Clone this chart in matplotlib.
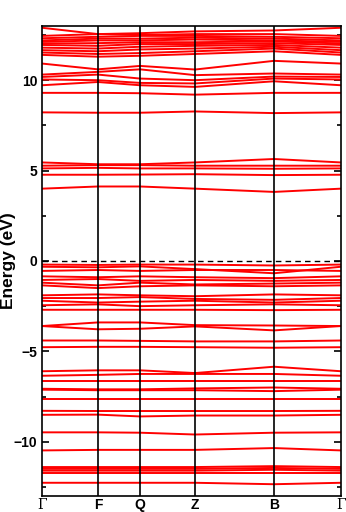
import numpy as np
import matplotlib.pyplot as plt

# k-path: high-symmetry points (fractional position along the path)
kpos = [0.0, 0.187, 0.328, 0.512, 0.776, 1.0]
klabels = ['Γ', 'F', 'Q', 'Z', 'B', 'Γ']

# band energies (eV) at Γ, F, Q, Z, B, Γ
valence = [
    [-0.20, -0.22, -0.20, -0.20, -0.25, -0.20],
    [-0.32, -0.35, -0.30, -0.45, -0.68, -0.32],
    [-0.55, -0.50, -0.55, -0.50, -0.50, -0.55],
    [-0.85, -0.90, -0.85, -0.90, -0.95, -0.85],
    [-1.05, -1.00, -1.10, -1.05, -1.10, -1.05],
    [-1.20, -1.35, -1.20, -1.30, -1.25, -1.20],
    [-1.35, -1.50, -1.40, -1.35, -1.40, -1.35],
    [-1.90, -1.85, -1.90, -1.95, -1.85, -1.90],
    [-2.05, -2.05, -2.00, -2.10, -2.15, -2.05],
    [-2.20, -2.30, -2.25, -2.20, -2.30, -2.20],
    [-2.45, -2.40, -2.50, -2.45, -2.40, -2.45],
    [-2.70, -2.70, -2.70, -2.70, -2.72, -2.70],
    [-3.60, -3.40, -3.40, -3.55, -3.57, -3.60],
    [-3.60, -3.78, -3.75, -3.62, -3.84, -3.60],
    [-4.40, -4.40, -4.42, -4.45, -4.45, -4.40],
    [-4.77, -4.75, -4.75, -4.77, -4.80, -4.77],
    [-6.10, -6.05, -6.05, -6.20, -5.85, -6.10],
    [-6.35, -6.30, -6.25, -6.25, -6.25, -6.35],
    [-6.65, -6.65, -6.65, -6.65, -6.65, -6.65],
    [-7.07, -7.10, -7.10, -7.05, -7.00, -7.07],
    [-7.12, -7.15, -7.15, -7.15, -7.20, -7.12],
    [-7.66, -7.66, -7.66, -7.66, -7.66, -7.66],
    [-8.29, -8.30, -8.30, -8.30, -8.30, -8.29],
    [-8.51, -8.50, -8.60, -8.55, -8.55, -8.51],
    [-9.48, -9.48, -9.50, -9.60, -9.50, -9.48],
    [-10.48, -10.45, -10.45, -10.45, -10.35, -10.48],
    [-11.40, -11.40, -11.40, -11.40, -11.35, -11.40],
    [-11.50, -11.50, -11.50, -11.50, -11.45, -11.50],
    [-11.60, -11.60, -11.60, -11.60, -11.55, -11.60],
    [-11.73, -11.73, -11.73, -11.73, -11.73, -11.73],
    [-12.27, -12.27, -12.27, -12.27, -12.35, -12.27],
]

conduction = [
    [4.00, 4.12, 4.12, 4.00, 3.82, 4.00],
    [4.77, 4.77, 4.78, 4.80, 4.75, 4.77],
    [5.12, 5.15, 5.12, 5.12, 5.10, 5.12],
    [5.27, 5.30, 5.30, 5.27, 5.27, 5.27],
    [5.45, 5.35, 5.35, 5.45, 5.64, 5.45],
    [8.22, 8.20, 8.20, 8.27, 8.18, 8.22],
    [9.30, 9.30, 9.28, 9.20, 9.30, 9.30],
    [9.72, 9.90, 9.72, 9.63, 9.94, 9.72],
    [10.04, 10.00, 9.85, 9.82, 10.09, 10.04],
    [10.18, 10.31, 10.09, 10.00, 10.20, 10.18],
    [10.31, 10.46, 10.60, 10.28, 10.37, 10.31],
    [10.92, 10.60, 10.79, 10.59, 11.07, 10.92],
    [11.40, 11.30, 11.35, 11.45, 11.60, 11.40],
    [11.53, 11.45, 11.50, 11.60, 11.75, 11.53],
    [11.66, 11.60, 11.70, 11.75, 11.85, 11.66],
    [11.80, 11.75, 11.85, 11.90, 11.95, 11.80],
    [11.95, 11.90, 12.00, 12.00, 12.05, 11.95],
    [12.03, 12.05, 12.10, 12.10, 12.15, 12.03],
    [12.12, 12.20, 12.20, 12.25, 12.20, 12.12],
    [12.20, 12.30, 12.30, 12.35, 12.30, 12.20],
    [12.32, 12.40, 12.45, 12.45, 12.40, 12.32],
    [12.45, 12.55, 12.50, 12.55, 12.55, 12.45],
    [12.90, 12.55, 12.60, 12.70, 12.75, 12.90],
]

fig = plt.figure(figsize=(3.46, 5.12), dpi=100)
ax = fig.add_axes([0.1214, 0.0313, 0.8641, 0.9180])

for band in valence + conduction:
    ax.plot(kpos, band, color='red', lw=1.4)

for k in kpos[1:-1]:
    ax.axvline(k, color='black', lw=1.2)
ax.axhline(0, color='black', lw=1.0, ls=(0, (4, 3)))

ax.set_xlim(0, 1)
ax.set_ylim(-13, 13)
ax.set_xticks(kpos)
ax.set_xticklabels(klabels)
for i, lab in enumerate(ax.get_xticklabels()):
    if klabels[i] == 'Γ':
        lab.set_fontfamily('DejaVu Serif')
        lab.set_fontweight('normal')
    else:
        lab.set_fontfamily('Liberation Sans')
        lab.set_fontweight('bold')
    lab.set_fontsize(10)
ax.tick_params(axis='x', length=0, pad=1.5)

ax.set_yticks([-10, -5, 0, 5, 10])
ax.set_yticks([-12.5, -7.5, -2.5, 2.5, 7.5, 12.5], minor=True)
ax.tick_params(axis='y', which='both', direction='in', left=True, right=True)
ax.tick_params(axis='y', which='major', length=5, width=1.2, labelsize=10)
ax.tick_params(axis='y', which='minor', length=3, width=1.2)
for lab in ax.get_yticklabels():
    lab.set_fontfamily('Liberation Sans')
    lab.set_fontweight('bold')

ax.set_ylabel('Energy (eV)', fontsize=12.5, fontweight='bold', family='Liberation Sans')
ax.yaxis.set_label_coords(-0.088, 0.5)
for s in ax.spines.values():
    s.set_linewidth(1.2)

fig.savefig('out.png', dpi=100)
